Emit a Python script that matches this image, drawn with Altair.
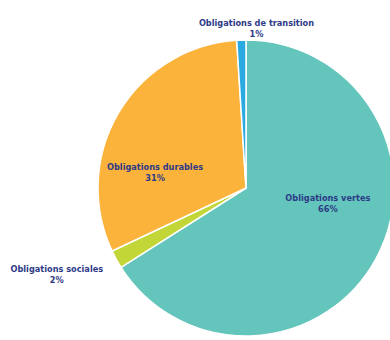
import altair as alt
import pandas as pd

categories = ["Obligations vertes", "Obligations sociales", "Obligations durables", "Obligations de transition"]
values = [66, 2, 31, 1]
colors = ["#63C5BC", "#C2D737", "#FBB33B", "#2BA9E1"]

df = pd.DataFrame({
    "categorie": categories,
    "part": values,
    "ordre": list(range(len(categories))),
})
df["label"] = df["categorie"] + "\n" + df["part"].astype(str) + "%"

CX, CY, R = 246, 188, 148
TEXT_COLOR = "#2E3A87"

base = alt.Chart(df).encode(
    theta=alt.Theta("part:Q", stack=True),
    order=alt.Order("ordre:Q"),
    x=alt.value(CX),
    y=alt.value(CY),
)

pie = base.mark_arc(outerRadius=R, stroke="white", strokeWidth=1.5).encode(
    color=alt.Color("categorie:N",
                    scale=alt.Scale(domain=categories, range=colors),
                    legend=None)
)

def label_layer(cat, radius, dx, dy):
    return base.transform_calculate(
        lbl=f"datum.categorie == '{cat}' ? datum.label : ''"
    ).mark_text(
        radius=radius, dx=dx, dy=dy, lineBreak="\n",
        font="DejaVu Sans", fontWeight="bold", fontSize=8.2,
        lineHeight=10.5, color=TEXT_COLOR, align="center", baseline="middle",
    ).encode(text="lbl:N")

layers = [
    pie,
    label_layer("Obligations vertes", 90, 3, -32),
    label_layer("Obligations durables", 90, -13.5, 26),
    label_layer("Obligations sociales", 160, -49, 5),
    label_layer("Obligations de transition", 160, 15.5, -4),
]

chart = alt.layer(*layers).properties(
    width=390, height=340, autosize="none", padding=0, background="white"
).configure_view(stroke=None)

chart.save("out.html", embed_options={"renderer": "svg", "actions": False})
